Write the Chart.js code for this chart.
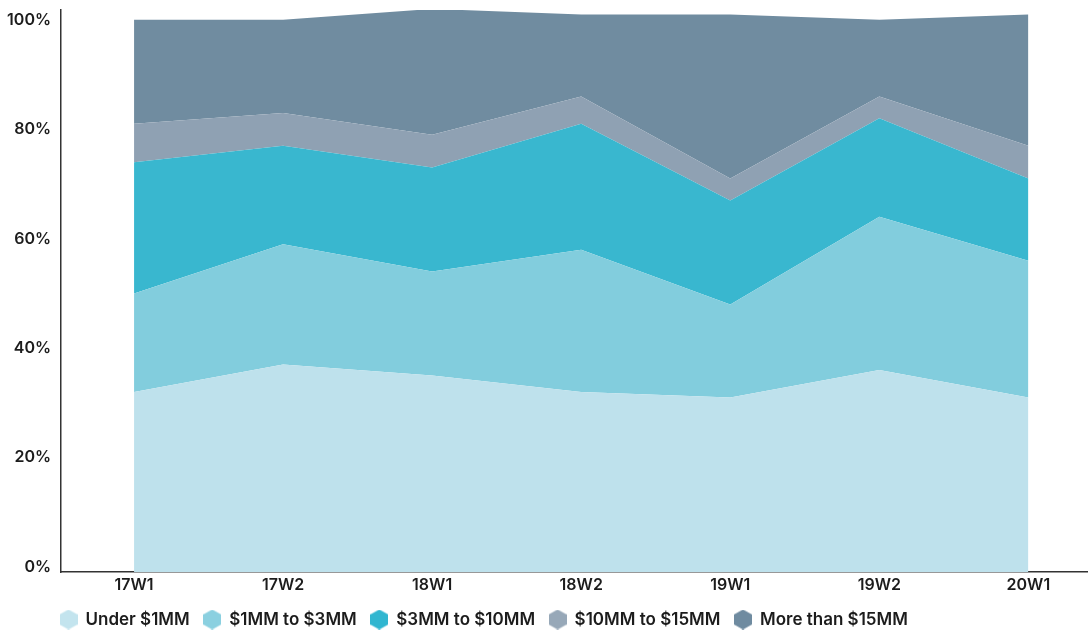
<!DOCTYPE html>
<html>
<head>
<meta charset="utf-8">
<script src="https://cdn.jsdelivr.net/npm/chart.js@4.4.1/dist/chart.umd.min.js"></script>
<style>
  html, body { margin: 0; padding: 0; background: #fff; }
  #wrap { width: 1088px; height: 632px; position: relative; }
</style>
</head>
<body>
<div id="wrap"><canvas id="chart"></canvas></div>
<script>
'use strict';

// categories + shares (%) per bucket
const categories = ['17W1', '17W2', '18W1', '18W2', '19W1', '19W2', '20W1'];
const under1mm   = [32, 37, 35, 32, 31, 36, 31];
const mm1to3     = [18, 22, 19, 26, 17, 28, 25];
const mm3to10    = [24, 18, 19, 23, 19, 18, 15];
const mm10to15   = [7, 6, 6, 5, 4, 4, 6];
const over15mm   = [19, 17, 23, 15, 30, 14, 24];
const yTicks     = [0, 20, 40, 60, 80, 100];

const FONT = "'Inter', 'Open Sans', sans-serif";
const INK = '#1c1c1c';
const PLOT_BOTTOM = 572;

// hexagon marker for the legend
function hexIcon(color){
  const c = document.createElement('canvas');
  const w = 18, h = 20;
  c.width = w; c.height = h;
  const g = c.getContext('2d');
  g.fillStyle = color;
  g.beginPath();
  g.moveTo(w / 2, 0);
  g.lineTo(w, h * 0.25);
  g.lineTo(w, h * 0.75);
  g.lineTo(w / 2, h);
  g.lineTo(0, h * 0.75);
  g.lineTo(0, h * 0.25);
  g.closePath();
  g.fill();
  return c;
}

function pts(arr){ return arr.map((v, i) => ({ x: i, y: v })); }

function ds(label, data, color, legendColor, fill){
  return { label, data: pts(data), backgroundColor: color, borderWidth: 0, fill,
    pointRadius: 0, pointHoverRadius: 0, tension: 0, pointStyle: hexIcon(legendColor) };
}

// nudge legend to where the original sits
const legendNudge = {
  id: 'legendNudge',
  afterLayout(chart){
    const lg = chart.legend; if (!lg) return;
    lg.left = 46; lg.top = 597;
  }
};

new Chart(document.getElementById('chart'), {
  type: 'line',
  data: { datasets: [
    ds('Under $1MM', under1mm, '#bee1ec', '#c3e4ee', 'start'),
    ds('$1MM to $3MM', mm1to3, '#82cddd', '#8bd0e0', '-1'),
    ds('$3MM to $10MM', mm3to10, '#39b7cf', '#30b6d0', '-1'),
    ds('$10MM to $15MM', mm10to15, '#8fa1b3', '#97a8b8', '-1'),
    ds('More than $15MM', over15mm, '#708ca0', '#6f8ba0', '-1')
  ] },
  plugins: [legendNudge],
  options: {
    responsive: true, maintainAspectRatio: false, animation: false,
    layout: { padding: { top: 10, right: 0, left: 0, bottom: 0 } },
    plugins: {
      tooltip: { enabled: false },
      legend: { position: 'bottom', align: 'start',
        labels: { usePointStyle: true, color: INK, padding: 14, boxWidth: 18, boxHeight: 20,
          font: { family: FONT, size: 17, weight: '600' } } }
    },
    scales: {
      x: { type: 'linear', min: -0.49, max: 6.4,
        grid: { display: false, drawTicks: false },
        border: { display: true, color: '#333', width: 1.5 },
        afterBuildTicks: s => { s.ticks = categories.map((c, i) => ({ value: i })); },
        ticks: { color: INK, padding: 4, maxRotation: 0, autoSkip: false,
          font: { family: FONT, size: 16, weight: '600' },
          callback: v => categories[v] },
        afterFit: s => {
          s.height = s.chart.height - PLOT_BOTTOM - s.chart.legend.height;
          s.paddingLeft = 0; s.paddingRight = 0;
        } },
      y: { stacked: true, min: -0.9, max: 101.8,
        grid: { display: false, drawTicks: false },
        border: { display: true, color: '#333', width: 1.5 },
        afterBuildTicks: s => { s.ticks = yTicks.map(v => ({ value: v })); },
        ticks: { color: INK, padding: 10, font: { family: FONT, size: 16, weight: '600' },
          callback: v => v + '%' },
        afterFit: s => { s.width = 61; s.paddingTop = 0; s.paddingBottom = 0; } }
    }
  }
});
</script>
</body>
</html>
